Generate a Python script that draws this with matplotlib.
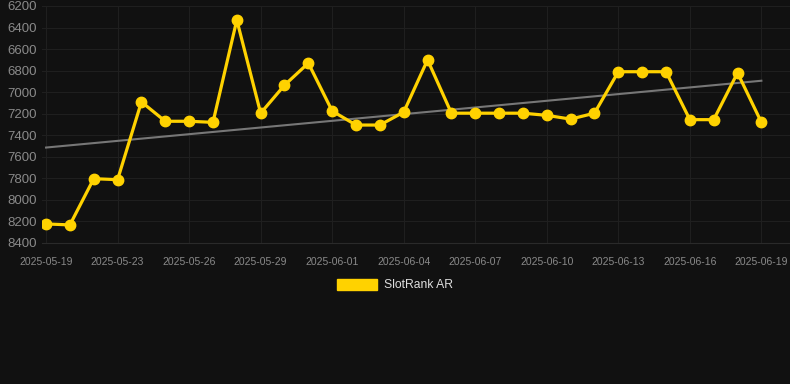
import numpy as np
import matplotlib.pyplot as plt
from matplotlib.patches import Patch

# --- data ---
DATES = ["2025-05-19", "2025-05-21", "2025-05-22", "2025-05-23", "2025-05-24",
         "2025-05-25", "2025-05-26", "2025-05-27", "2025-05-28", "2025-05-29",
         "2025-05-30", "2025-05-31", "2025-06-01", "2025-06-02", "2025-06-03",
         "2025-06-04", "2025-06-05", "2025-06-06", "2025-06-07", "2025-06-08",
         "2025-06-09", "2025-06-10", "2025-06-11", "2025-06-12", "2025-06-13",
         "2025-06-14", "2025-06-15", "2025-06-16", "2025-06-17", "2025-06-18",
         "2025-06-19"]
RANK = [8223, 8232, 7803, 7812, 7090, 7270, 7270, 7280, 6330, 7195,
        6935, 6730, 7175, 7305, 7305, 7185, 6700, 7195, 7195, 7195,
        7195, 7215, 7250, 7195, 6810, 6810, 6810, 7255, 7255, 6820,
        7280]
Y_TICKS = [6200, 6400, 6600, 6800, 7000, 7200, 7400, 7600, 7800, 8000, 8200, 8400]
SERIES = "SlotRank AR"

BG = "#111111"
GOLD = "#FFD200"

plt.rcParams['font.family'] = ['Liberation Sans', 'DejaVu Sans']

fig = plt.figure(figsize=(7.9, 3.84), dpi=100, facecolor=BG)
ax = fig.add_axes([42 / 790, 1 - 243 / 384, 1 - 42 / 790, (243 - 6) / 384], facecolor=BG)

x = np.arange(len(RANK))
# trend line (least squares)
k, b = np.polyfit(x, RANK, 1)
ax.plot(x, k * x + b, color="#777777", lw=1.5, zorder=2)
ax.plot(x, RANK, color=GOLD, lw=2.3, marker="o", ms=7.5, zorder=3)

ax.set_ylim(8400, 6200)
ax.set_yticks(Y_TICKS)
ax.set_xlim(-0.17, 31.2)
tick_idx = x[::3]
ax.set_xticks(tick_idx)
ax.set_xticklabels([DATES[i] for i in tick_idx])

ax.grid(True, color="#1f1f1f", lw=0.8)
ax.set_axisbelow(True)
for side in ["top", "right", "left"]:
    ax.spines[side].set_visible(False)
ax.spines["bottom"].set_color("#2a2a2a")
ax.tick_params(axis="y", length=0, labelsize=9.5, labelcolor="#8a8a8a", pad=4)
ax.tick_params(axis="x", length=0, labelsize=7.5, labelcolor="#8a8a8a", pad=10)

fig.legend(handles=[Patch(facecolor=GOLD, edgecolor=GOLD, label=SERIES)],
           loc="center", bbox_to_anchor=(0.5, 1 - 285 / 384), frameon=False,
           handlelength=3.3, handleheight=1.0, handletextpad=0.6,
           fontsize=8.7, labelcolor="#dddddd")

fig.savefig("out.png", dpi=100, facecolor=BG)
